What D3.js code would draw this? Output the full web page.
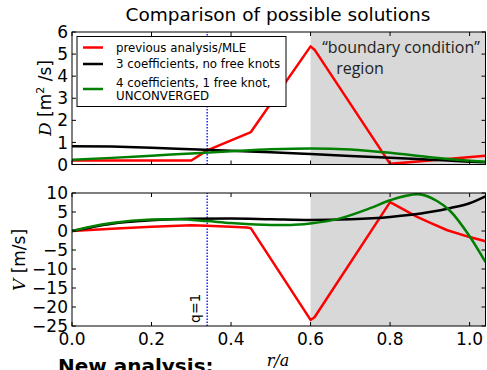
<!DOCTYPE html>
<html>
<head>
<meta charset="utf-8">
<script src="https://cdn.jsdelivr.net/npm/d3@7"></script>
<style>
  html, body { margin: 0; padding: 0; background: #fff; }
  svg { display: block; font-family: "DejaVu Sans", sans-serif; }
</style>
</head>
<body>
<svg id="chart" width="487" height="370"></svg>
<script>
// ── Data ────────────────────────────────────────────────────────────────────
const redD   = [[0,0.18],[0.30,0.18],[0.34,0.64],[0.45,1.47],[0.60,5.35],[0.61,5.2],[0.80,0.03],[0.90,0.18],[1.04,0.40]];
const blackD = [[0,0.83],[0.1,0.81],[0.2,0.76],[0.3,0.69],[0.4,0.62],[0.5,0.55],[0.6,0.47],[0.7,0.39],[0.8,0.31],[0.9,0.22],[1.0,0.13],[1.04,0.10]];
const greenD = [[0,0.21],[0.1,0.30],[0.2,0.40],[0.3,0.50],[0.4,0.60],[0.5,0.69],[0.6,0.73],[0.7,0.68],[0.8,0.53],[0.9,0.33],[1.0,0.17],[1.04,0.12]];

const redV   = [[0,0],[0.1,0.6],[0.2,1.1],[0.3,1.5],[0.34,1.4],[0.4,1.1],[0.44,0.9],[0.45,0.7],[0.60,-23.4],[0.61,-22.7],[0.80,7.6],[0.868,3.7],[0.90,2.2],[0.944,0.2],[1.0,-1.6],[1.04,-2.7]];
const blackV = [[0,0],[0.05,1.0],[0.1,1.9],[0.2,2.8],[0.3,3.2],[0.4,3.3],[0.5,3.1],[0.6,2.9],[0.7,3.1],[0.8,3.7],[0.9,5.0],[0.95,6.0],[1.0,7.3],[1.04,9.1]];
const greenV = [[0,0],[0.05,1.2],[0.1,2.1],[0.2,3.0],[0.27,3.1],[0.34,2.6],[0.4,2.1],[0.5,1.6],[0.55,1.6],[0.6,2.0],[0.67,3.2],[0.75,6.0],[0.8,8.1],[0.87,9.7],[0.918,7.9],[0.95,5.4],[1.0,-1.4],[1.04,-8.2]];

const xTicks  = [0, 0.2, 0.4, 0.6, 0.8, 1.0];
const dTicks  = [0, 1, 2, 3, 4, 5, 6];
const vTicks  = [-25, -20, -15, -10, -5, 0, 5, 10];
const qOne    = 0.34;
const bcStart = 0.6;

const series = [
  { name: "previous analysis/MLE",        color: "#ff0000", D: redD,   V: redV,   curve: d3.curveLinear },
  { name: "3 coefficients, no free knots", color: "#000000", D: blackD, V: blackV, curve: d3.curveMonotoneX },
  { name: "4 coefficients, 1 free knot,",  color: "#007f00", D: greenD, V: greenV, curve: d3.curveMonotoneX, extra: "UNCONVERGED" },
];

// ── Layout ──────────────────────────────────────────────────────────────────
const svg = d3.select("#chart");
const x = d3.scaleLinear().domain([0, 1.04]).range([72, 485.5]);
const yD = d3.scaleLinear().domain([0, 6]).range([164.5, 32]);
const yV = d3.scaleLinear().domain([-25, 10]).range([326, 193]);
const fmt = v => d3.format(".1f")(v);
const minus = v => (v < 0 ? "\u2212" + Math.abs(v) : String(v));

function panel(id, y, key, ticks, tickFmt, showX) {
  const [y0, y1] = y.range();
  const g = svg.append("g");
  g.append("clipPath").attr("id", "clip-" + id)
    .append("rect").attr("x", x(0)).attr("y", y1).attr("width", x(1.04) - x(0)).attr("height", y0 - y1);

  // shaded "boundary condition" region
  g.append("rect").attr("x", x(bcStart)).attr("y", y1)
    .attr("width", x(1.04) - x(bcStart)).attr("height", y0 - y1).attr("fill", "#d8d8d8");

  // q=1 line
  g.append("line").attr("x1", x(qOne)).attr("x2", x(qOne)).attr("y1", y0).attr("y2", y1)
    .attr("stroke", "#2020ff").attr("stroke-width", 1.5).attr("stroke-dasharray", "1.5,1.5");

  const lines = g.append("g").attr("clip-path", `url(#clip-${id})`);
  series.forEach(s => {
    const line = d3.line().x(d => x(d[0])).y(d => y(d[1])).curve(s.curve);
    lines.append("path").datum(s[key]).attr("d", line)
      .attr("fill", "none").attr("stroke", s.color).attr("stroke-width", 2.5)
      .attr("stroke-linejoin", "round");
  });

  // frame
  g.append("rect").attr("x", x(0)).attr("y", y1).attr("width", x(1.04) - x(0)).attr("height", y0 - y1)
    .attr("fill", "none").attr("stroke", "#000").attr("stroke-width", 1);

  // ticks, inward on all four sides
  const tk = g.append("g").attr("stroke", "#000").attr("stroke-width", 1);
  xTicks.forEach(t => {
    tk.append("line").attr("x1", x(t)).attr("x2", x(t)).attr("y1", y0).attr("y2", y0 - 4);
    tk.append("line").attr("x1", x(t)).attr("x2", x(t)).attr("y1", y1).attr("y2", y1 + 4);
  });
  ticks.forEach(t => {
    tk.append("line").attr("x1", x(0)).attr("x2", x(0) + 4).attr("y1", y(t)).attr("y2", y(t));
    tk.append("line").attr("x1", x(1.04)).attr("x2", x(1.04) - 4).attr("y1", y(t)).attr("y2", y(t));
  });

  g.selectAll(null).data(ticks).join("text")
    .attr("x", 68).attr("y", d => y(d)).attr("dy", "0.36em")
    .attr("text-anchor", "end").attr("font-size", 17).text(tickFmt);

  if (showX) {
    g.selectAll(null).data(xTicks).join("text")
      .attr("x", d => x(d)).attr("y", y0 + 19)
      .attr("text-anchor", "middle").attr("font-size", 17).text(fmt);
  }
  return g;
}

panel("d", yD, "D", dTicks, d => d, false);
panel("v", yV, "V", vTicks, minus, true);

// ── Texts ───────────────────────────────────────────────────────────────────
svg.append("text").attr("x", 278).attr("y", 21).attr("text-anchor", "middle")
  .attr("font-size", 18.5).text("Comparison of possible solutions");

const dLab = svg.append("text").attr("transform", "translate(51,98) rotate(-90)")
  .attr("text-anchor", "middle").attr("font-size", 17);
dLab.append("tspan").attr("font-family", "DejaVu Serif").attr("font-style", "italic").text("D");
dLab.append("tspan").text(" [m");
dLab.append("tspan").attr("font-size", 11).attr("dy", -7).text("2");
dLab.append("tspan").attr("dy", 7).text(" /s]");

const vLab = svg.append("text").attr("transform", "translate(25,260) rotate(-90)")
  .attr("text-anchor", "middle").attr("font-size", 17);
vLab.append("tspan").attr("font-family", "DejaVu Serif").attr("font-style", "italic").text("V");
vLab.append("tspan").text(" [m/s]");

svg.append("text").attr("x", 278).attr("y", 366).attr("text-anchor", "middle")
  .attr("font-family", "DejaVu Serif").attr("font-style", "italic").attr("font-size", 16).text("r/a");

svg.append("text").attr("transform", `translate(${x(qOne) - 7},323) rotate(-90)`)
  .attr("font-size", 14).text("q=1");

svg.append("text").attr("x", 401).attr("y", 53).attr("text-anchor", "middle")
  .attr("font-family", "Open Sans").attr("font-size", 16).attr("fill", "#222")
  .text("\u201Cboundary condition\u201D");
svg.append("text").attr("x", 360).attr("y", 74).attr("text-anchor", "middle")
  .attr("font-family", "Open Sans").attr("font-size", 16).attr("fill", "#222")
  .text("region");

// title of the next slide, cut by the bottom edge
svg.append("text").attr("x", 58).attr("y", 373).attr("font-weight", "bold")
  .attr("font-size", 20).text("New analysis:");

// ── Legend ──────────────────────────────────────────────────────────────────
const leg = svg.append("g");
leg.append("rect").attr("x", 77).attr("y", 36.5).attr("width", 209).attr("height", 70)
  .attr("fill", "#fff").attr("stroke", "#000").attr("stroke-width", 1);
const legY = [47.5, 64, 89];
series.forEach((s, i) => {
  leg.append("line").attr("x1", 83).attr("x2", 103).attr("y1", legY[i]).attr("y2", legY[i])
    .attr("stroke", s.color).attr("stroke-width", 2.5);
  const rows = s.extra ? [s.name, s.extra] : [s.name];
  rows.forEach((r, j) => {
    leg.append("text").attr("x", 116)
      .attr("y", legY[i] + (rows.length > 1 ? (j - 0.5) * 12.8 : 0)).attr("dy", "0.36em")
      .attr("font-size", 11.8).text(r);
  });
});
</script>
</body>
</html>
